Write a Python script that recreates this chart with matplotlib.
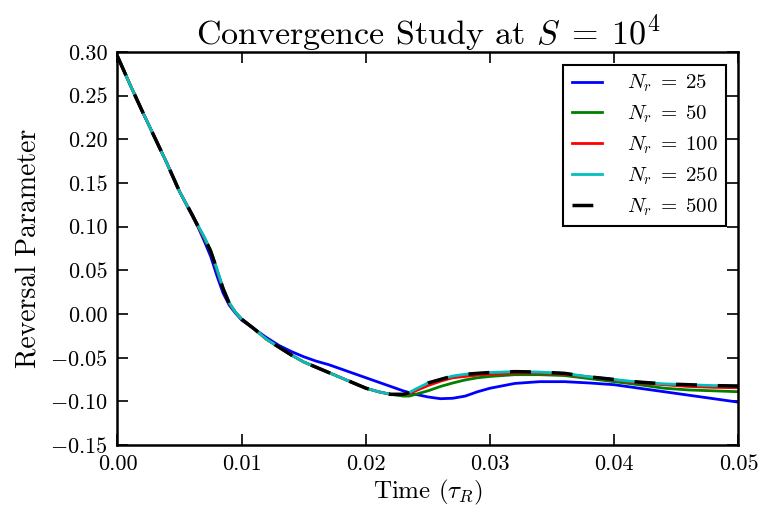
import matplotlib
matplotlib.use('Agg')
import matplotlib.pyplot as plt

plt.rcParams['font.family'] = 'serif'
plt.rcParams['font.serif'] = ['cmr10']
plt.rcParams['mathtext.fontset'] = 'cm'
plt.rcParams['axes.formatter.use_mathtext'] = True

# time grid (tau_R)
t = [0.0, 0.001, 0.002, 0.003, 0.004, 0.005, 0.006, 0.0065, 0.007, 0.0075,
     0.008, 0.0085, 0.009, 0.0095, 0.010, 0.011, 0.012, 0.013, 0.014, 0.015,
     0.016, 0.017, 0.018, 0.019, 0.020, 0.021, 0.022, 0.023, 0.0235, 0.024,
     0.025, 0.026, 0.027, 0.028, 0.029, 0.030, 0.032, 0.034, 0.036, 0.038,
     0.040, 0.042, 0.044, 0.046, 0.048, 0.050]

nr25 = [0.295, 0.263, 0.232, 0.202, 0.172, 0.140, 0.113, 0.099, 0.083, 0.066,
        0.044, 0.024, 0.010, 0.001, -0.007, -0.017, -0.027, -0.036, -0.043, -0.049,
        -0.054, -0.058, -0.063, -0.068, -0.073, -0.078, -0.083, -0.088, -0.090, -0.092,
        -0.095, -0.097, -0.0965, -0.094, -0.089, -0.085, -0.0795, -0.0775, -0.0775, -0.079,
        -0.081, -0.085, -0.089, -0.093, -0.097, -0.101]

nr50 = [0.295, 0.263, 0.232, 0.202, 0.172, 0.140, 0.114, 0.100, 0.086, 0.071,
        0.050, 0.029, 0.012, 0.002, -0.006, -0.017, -0.029, -0.038, -0.047, -0.055,
        -0.061, -0.067, -0.073, -0.079, -0.085, -0.089, -0.092, -0.094, -0.094, -0.092,
        -0.088, -0.083, -0.079, -0.0755, -0.073, -0.0715, -0.0695, -0.0695, -0.0705, -0.074,
        -0.0775, -0.081, -0.085, -0.087, -0.088, -0.089]

nr100 = [0.295, 0.263, 0.232, 0.202, 0.172, 0.140, 0.114, 0.100, 0.087, 0.072,
         0.051, 0.029, 0.012, 0.002, -0.006, -0.017, -0.029, -0.038, -0.047, -0.055,
         -0.061, -0.067, -0.073, -0.079, -0.085, -0.089, -0.092, -0.092, -0.091, -0.088,
         -0.082, -0.077, -0.073, -0.0715, -0.070, -0.069, -0.0675, -0.0675, -0.069, -0.072,
         -0.0755, -0.079, -0.081, -0.083, -0.084, -0.0845]

nr250 = [0.295, 0.263, 0.232, 0.202, 0.172, 0.140, 0.114, 0.101, 0.088, 0.073,
         0.052, 0.030, 0.013, 0.002, -0.006, -0.017, -0.029, -0.038, -0.047, -0.055,
         -0.061, -0.067, -0.073, -0.079, -0.085, -0.089, -0.092, -0.092, -0.090, -0.086,
         -0.079, -0.075, -0.071, -0.069, -0.068, -0.067, -0.066, -0.0665, -0.068, -0.072,
         -0.075, -0.078, -0.080, -0.081, -0.082, -0.0825]

nr500 = [0.295, 0.263, 0.232, 0.202, 0.172, 0.140, 0.114, 0.100, 0.087, 0.072,
         0.051, 0.029, 0.012, 0.002, -0.006, -0.017, -0.029, -0.038, -0.047, -0.055,
         -0.061, -0.067, -0.073, -0.079, -0.085, -0.089, -0.092, -0.092, -0.090, -0.086,
         -0.079, -0.075, -0.071, -0.069, -0.068, -0.067, -0.066, -0.0665, -0.068, -0.072,
         -0.075, -0.078, -0.080, -0.081, -0.082, -0.0825]

xticks = [0.0, 0.01, 0.02, 0.03, 0.04, 0.05]
yticks = [-0.15, -0.10, -0.05, 0.0, 0.05, 0.10, 0.15, 0.20, 0.25, 0.30]

fig = plt.figure(figsize=(7.61, 5.12), dpi=100)
ax = fig.add_axes([0.1544, 0.1309, 0.816, 0.7675])

ax.plot(t, nr25, color='b', lw=2, label=r'$N_r\;=\;25$')
ax.plot(t, nr50, color='g', lw=2, label=r'$N_r\;=\;50$')
ax.plot(t, nr100, color='r', lw=2, label=r'$N_r\;=\;100$')
ax.plot(t, nr250, color='c', lw=2, label=r'$N_r\;=\;250$')
ax.plot(t, nr500, color='k', lw=2.5, ls='--', dashes=(6, 6), label=r'$N_r\;=\;500$')

ax.set_xlim(0, 0.05)
ax.set_ylim(-0.15, 0.30)
ax.set_xticks(xticks)
ax.set_yticks(yticks)
ax.set_xticklabels(['%.2f' % v for v in xticks], fontsize=16)
ax.set_yticklabels([('$-$%.2f' % -v) if v < 0 else '%.2f' % v for v in yticks], fontsize=16)
ax.tick_params(direction='in', top=True, right=True, length=8, width=1.2, pad=7)
for s in ax.spines.values():
    s.set_linewidth(1.8)

ax.set_title(r'Convergence Study at $S\;=\;10^4$', fontsize=24.5, pad=6)
ax.set_xlabel(r'Time $(\tau_R)$', fontsize=18, labelpad=3)
ax.set_ylabel('Reversal Parameter', fontsize=20, labelpad=6)

leg = ax.legend(loc='upper right', fontsize=15, fancybox=False, framealpha=1,
                edgecolor='k', handlelength=1.45, handletextpad=1.2,
                borderaxespad=0.6, labelspacing=0.45)
leg.get_frame().set_linewidth(1.5)

plt.savefig('out.png', dpi=100)
